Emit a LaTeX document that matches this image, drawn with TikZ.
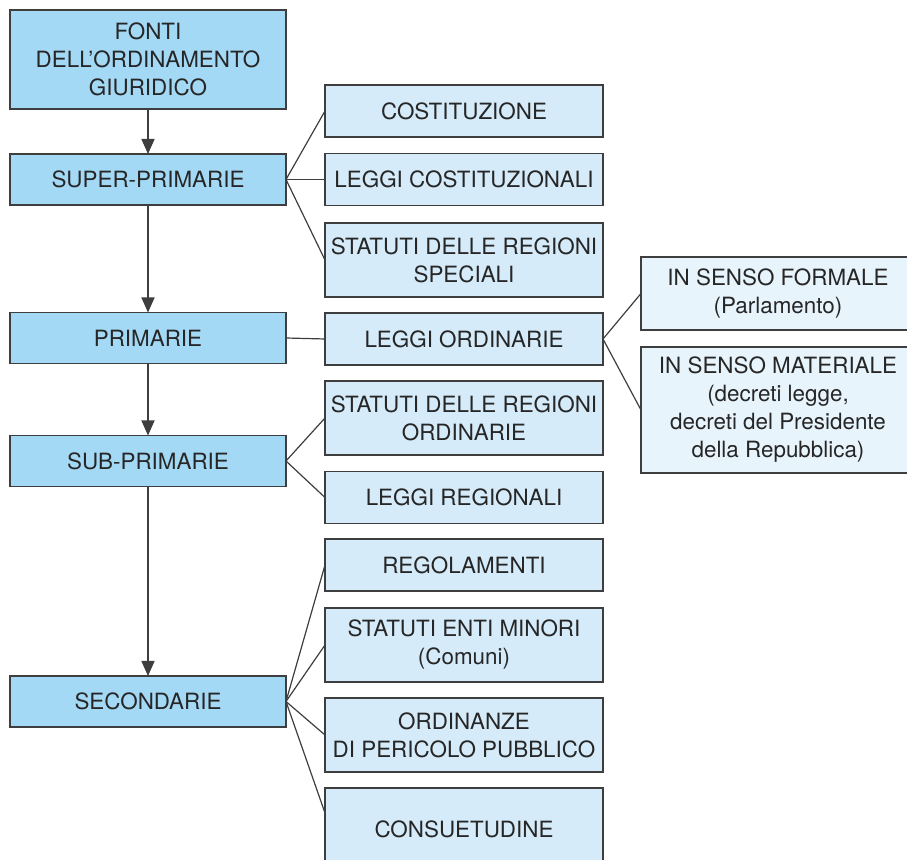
\documentclass[tikz,border=0pt]{standalone}
\usepackage{fontspec}
\setmainfont{TeX Gyre Heros}
\usetikzlibrary{arrows.meta}
\definecolor{capo}{RGB}{164,217,246}
\definecolor{fonte}{RGB}{213,235,249}
\definecolor{tipo}{RGB}{232,244,252}
\definecolor{bordo}{RGB}{62,62,62}
\begin{document}
\begin{tikzpicture}[x=0.5pt,y=-0.5pt,
  box/.style={draw=bordo,line width=0.75pt,inner sep=0pt,outer sep=0pt,align=center,
    text=black!85,font=\fontsize{11.2}{14}\selectfont},
  livello/.style={box,fill=capo,minimum width=138pt,minimum height=25.5pt},
  fonte/.style={box,fill=fonte,minimum width=139pt,minimum height=26pt},
  tipo/.style={box,fill=tipo,minimum width=137pt},
  freccia/.style={draw=bordo,line width=0.75pt,-{Triangle[length=7.5pt,width=6.5pt]}},
  ramo/.style={draw=bordo,line width=0.6pt}]
\useasboundingbox (0,0) rectangle (907,860);

\node[livello,minimum height=49.5pt] (fonti) at (148,59.5) {FONTI\\DELL’ORDINAMENTO\\GIURIDICO};
\node[livello] (super) at (148,179.5) {SUPER-PRIMARIE};
\node[livello] (prim) at (148,338) {PRIMARIE};
\node[livello] (sub) at (148,461) {SUB-PRIMARIE};
\node[livello] (sec) at (148,701.5) {SECONDARIE};

\node[fonte] (cost) at (464,111) {COSTITUZIONE};
\node[fonte] (lcost) at (464,179.5) {LEGGI COSTITUZIONALI};
\node[fonte,minimum height=37pt] (statspec) at (464,260) {STATUTI DELLE REGIONI\\SPECIALI};
\node[fonte] (lord) at (464,339) {LEGGI ORDINARIE};
\node[fonte,minimum height=37pt] (statord) at (464,418) {STATUTI DELLE REGIONI\\ORDINARIE};
\node[fonte] (lreg) at (464,497.5) {LEGGI REGIONALI};
\node[fonte] (regol) at (464,565) {REGOLAMENTI};
\node[fonte,minimum height=37pt] (statenti) at (464,645) {STATUTI ENTI MINORI\\(Comuni)};
\node[fonte,minimum height=37pt] (ordin) at (464,735) {ORDINANZE\\DI PERICOLO PUBBLICO};
\node[fonte,minimum height=41pt] (consu) at (464,829) {CONSUETUDINE};

\node[tipo,minimum height=36.5pt] (formale) at (778,293.5) {IN SENSO FORMALE\\(Parlamento)};
\node[tipo,minimum height=63pt] (materiale) at (778,410) {IN SENSO MATERIALE\\(decreti legge,\\decreti del Presidente\\della Repubblica)};

\draw[freccia] (fonti) -- (super);
\draw[freccia] (super) -- (prim);
\draw[freccia] (prim) -- (sub);
\draw[freccia] (sub) -- (sec);

\draw[ramo] (super.east) -- (cost.west);
\draw[ramo] (super.east) -- (lcost.west);
\draw[ramo] (super.east) -- (statspec.west);
\draw[ramo] (prim.east) -- (lord.west);
\draw[ramo] (lord.east) -- (formale.west);
\draw[ramo] (lord.east) -- (materiale.west);
\draw[ramo] (sub.east) -- (statord.west);
\draw[ramo] (sub.east) -- (lreg.west);
\draw[ramo] (sec.east) -- (regol.west);
\draw[ramo] (sec.east) -- (statenti.west);
\draw[ramo] (sec.east) -- (ordin.west);
\draw[ramo] (sec.east) -- ([yshift=8pt]consu.west);
\end{tikzpicture}
\end{document}
